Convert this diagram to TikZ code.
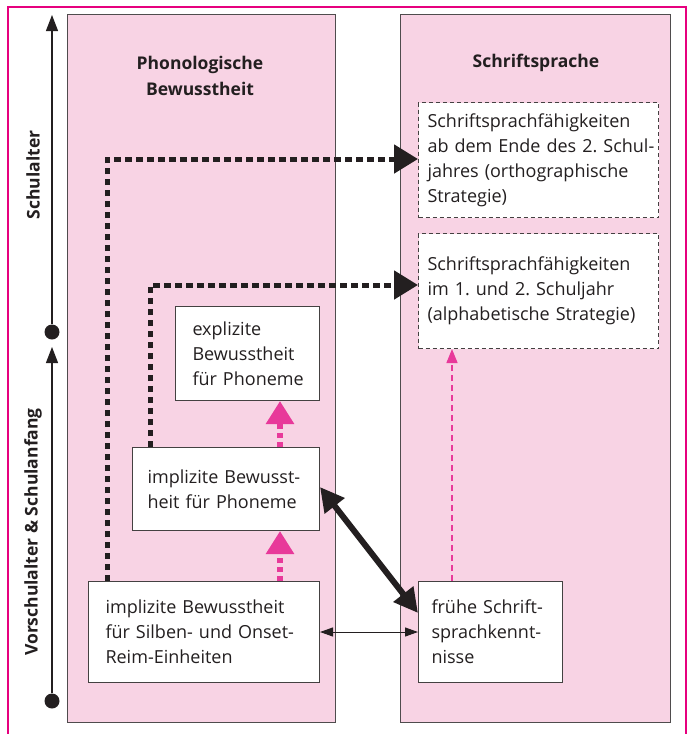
\documentclass[tikz,border=0pt]{standalone}
\usepackage{fontspec}
\setmainfont{Open Sans}
\usetikzlibrary{arrows.meta}
\definecolor{colfill}{HTML}{F8D3E4}
\definecolor{frameclr}{HTML}{E6007E}
\definecolor{pinkarr}{HTML}{E8399A}
\definecolor{ink}{HTML}{231F20}
\frenchspacing
\begin{document}
\begin{tikzpicture}[x=1pt,y=-1pt,
  txt/.style={font=\fontsize{18}{25}\selectfont\frenchspacing, text=ink},
  colbox/.style={draw=ink!80, fill=colfill, line width=1.2pt, anchor=north west, inner sep=0pt},
  solidbox/.style={draw=ink!85, fill=white, line width=1pt, anchor=north west, align=left, txt, inner ysep=0pt},
  dashbox/.style={solidbox, dashed, dash pattern=on 4pt off 3pt},
  titletxt/.style={font=\fontsize{17.5}{25.5}\selectfont\bfseries, text=ink, align=center},
  sidetxt/.style={font=\fontsize{17.5}{20}\selectfont\bfseries, text=ink, rotate=90},
  dotline/.style={ink, line width=5pt, dash pattern=on 6.5pt off 4.5pt, -{Triangle[length=24pt,width=28pt]}},
  pinkthick/.style={pinkarr, line width=6.5pt, dash pattern=on 5pt off 4pt, -{Triangle[length=23pt,width=27pt]}},
  pinkthin/.style={pinkarr, line width=1.3pt, dash pattern=on 6pt off 4pt, -{Triangle[length=14pt,width=11pt]}},
  timeline/.style={ink, line width=1.2pt, -{Triangle[length=16pt,width=12pt]}},
  tdot/.style={circle, fill=ink, minimum size=15pt, inner sep=0pt}
]
\useasboundingbox (0,0) rectangle (689,734);
\draw[frameclr, line width=2.5pt] (8,734) -- (8,7) -- (686,7) -- (686,734);

% columns
\node[colbox, minimum width=268pt, minimum height=708pt] (lcol) at (67,14) {};
\node[colbox, minimum width=270pt, minimum height=708pt] (rcol) at (400,14) {};
\node[titletxt] (ltitle) at (200,76) {Phonologische\\Bewusstheit};
\node[titletxt] (rtitle) at (536,63) {Schriftsprache};

% timeline
\node[tdot] (dotA) at (52,332) {};
\node[tdot] (dotB) at (52,701) {};
\coordinate (topA) at (52,15);
\coordinate (topB) at (52,347);
\draw[timeline] (dotA) -- (topA);
\draw[timeline] (dotB) -- (topB);
\node[sidetxt] (lblA) at (33,175) {Schulalter};
\node[sidetxt] (lblB) at (33,532) {Vorschulalter \& Schulanfang};

% boxes
\node[solidbox, inner xsep=17pt, text width=110pt, minimum height=94pt] (expl) at (175,306)
  {\mbox{explizite}\\\mbox{Bewusstheit}\\\mbox{für Phoneme}};
\node[solidbox, inner xsep=15pt, text width=157pt, minimum height=83pt] (implph) at (132,447)
  {\mbox{implizite Bewusst-}\\\mbox{heit für Phoneme}};
\node[solidbox, inner xsep=17pt, text width=197pt, minimum height=101pt] (implsil) at (88,581)
  {\mbox{implizite Bewusstheit}\\\mbox{für Silben- und Onset-}\\\mbox{Reim-Einheiten}};
\node[solidbox, inner xsep=13pt, text width=118pt, minimum height=101pt] (frueh) at (418,581)
  {\mbox{frühe Schrift-}\\\mbox{sprachkennt-}\\\mbox{nisse}};
\node[dashbox, inner xsep=9pt, text width=222pt, minimum height=115pt] (ortho) at (418,102)
  {\mbox{Schriftsprachfähigkeiten}\\\mbox{ab dem Ende des 2. Schul-}\\\mbox{jahres (orthographische}\\\mbox{Strategie)}};
\node[dashbox, inner xsep=9pt, text width=222pt, minimum height=115pt] (alpha) at (418,233)
  {\mbox{Schriftsprachfähigkeiten}\\\mbox{im 1. und 2. Schuljahr}\\\mbox{(alphabetische Strategie)}};

% thick dotted black arrows
\draw[dotline] (implsil.north -| 107,0) -- (107,159) -- (ortho.west |- 0,159);
\draw[dotline] (implph.north -| 150,0) -- (150,285) -- (alpha.west |- 0,285);

% pink thick arrows
\draw[pinkthick] (implsil.north -| 280,0) -- (implph.south -| 280,0);
\draw[pinkthick] (implph.north -| 280,0) -- (expl.south -| 280,0);

% pink thin arrow
\draw[pinkthin] (frueh.north -| 452,0) -- (alpha.south -| 452,0);

% thick double arrow
\draw[ink, line width=6pt, {Triangle[length=24pt,width=24pt]}-{Triangle[length=24pt,width=24pt]}]
  (implph.east |- 0,487) -- (frueh.west |- 0,613);

% thin double arrow
\draw[ink, line width=1pt, {Triangle[length=13pt,width=9pt]}-{Triangle[length=13pt,width=9pt]}]
  (implsil.east |- 0,632) -- (frueh.west |- 0,632);
\end{tikzpicture}
\end{document}
